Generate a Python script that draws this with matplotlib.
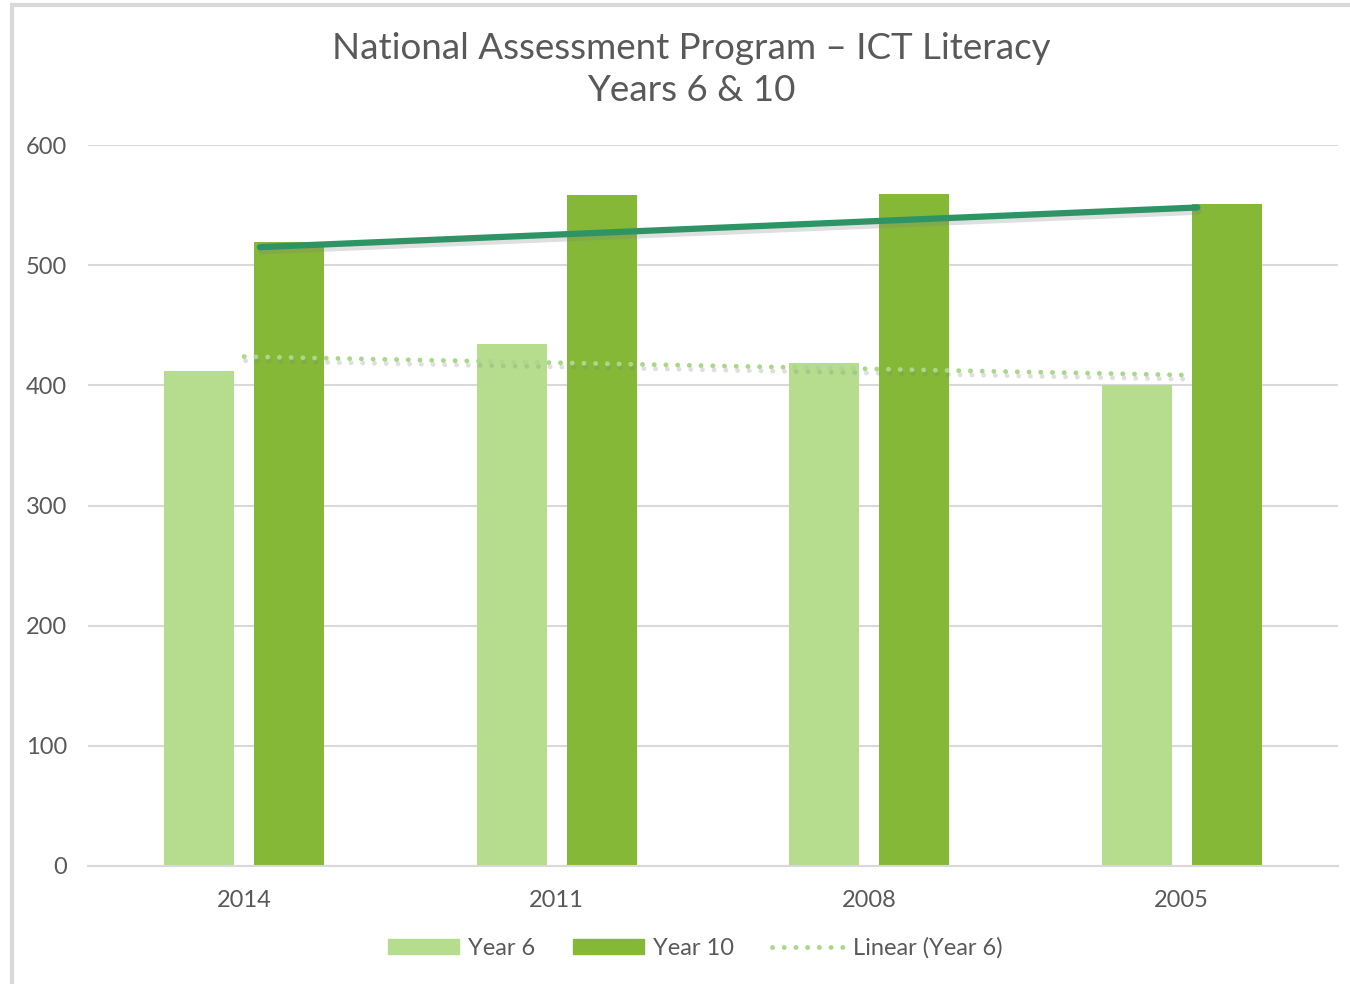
import numpy as np
import matplotlib
matplotlib.use('Agg')
import matplotlib.pyplot as plt
import matplotlib.patheffects as pe
from matplotlib.patches import Rectangle, Patch
from matplotlib.lines import Line2D

# 数据
years = ['2014', '2011', '2008', '2005']
year6 = [412, 434, 419, 400]
year10 = [519, 558, 559, 551]
# Year 10 的趋势线是手画的，记录两端读数
year10_line_x = [0.05, 3.05]
year10_line_y = [515, 548]
yticks = [0, 100, 200, 300, 400, 500, 600]

plt.rcParams['font.family'] = ['Lato', 'DejaVu Sans']
txt = '#595959'
grid_c = '#D9D9D9'
c6 = '#B6DD8E'
c10 = '#85B837'
c_dot = '#A8D888'

fig = plt.figure(figsize=(13.5, 9.84), dpi=100)
ax = fig.add_axes([88/1350, 1-866/984, 1250/1350, 721/984])

x = np.arange(len(years))
w = 0.224
off = 0.144
ax.bar(x - off, year6, w, color=c6, zorder=2)
ax.bar(x + off, year10, w, color=c10, zorder=2)

# Year 6 的线性趋势
k, b = np.polyfit(x, year6, 1)
shadow = [pe.SimpleLineShadow(offset=(1, -3), shadow_color='gray', alpha=0.25), pe.Normal()]
dot_style = (0, (0.01, 2.4))
ax.plot([x[0], x[-1]], [b, k*x[-1] + b], color=c_dot, lw=3.5, ls=dot_style,
        dash_capstyle='round', zorder=3, path_effects=shadow)
ax.plot(year10_line_x, year10_line_y, color='#2E9466', lw=4.5, solid_capstyle='round',
        zorder=3, path_effects=shadow)

ax.set_xlim(-0.5, 3.5)
ax.set_ylim(0, 600)
ax.set_yticks(yticks)
ax.set_xticks(x)
ax.set_xticklabels(years)
ax.grid(axis='y', color=grid_c, lw=1.5, zorder=0)
for s in ['top', 'right', 'left']:
    ax.spines[s].set_visible(False)
ax.spines['bottom'].set_color(grid_c)
ax.spines['bottom'].set_linewidth(1.5)
ax.tick_params(length=0, labelsize=17, colors=txt)
ax.tick_params(axis='y', pad=15)
ax.tick_params(axis='x', pad=17)

fig.text(0.512, 0.951, 'National Assessment Program – ICT Literacy', ha='center', va='center',
         fontsize=26.5, color=txt)
fig.text(0.512, 0.908, 'Years 6 & 10', ha='center', va='center', fontsize=26.5, color=txt)

handles = [Patch(color=c6), Patch(color=c10),
           Line2D([], [], color=c_dot, lw=3.5, ls=dot_style, dash_capstyle='round')]
ax.legend(handles, ['Year 6', 'Year 10', 'Linear (Year 6)'], loc='center',
          bbox_to_anchor=(695/1350, 1-948/984), bbox_transform=fig.transFigure,
          ncol=3, frameon=False, fontsize=17, labelcolor=txt, handlelength=3.0,
          handleheight=0.6, handletextpad=0.4, columnspacing=1.6)

# 外框
fig.patches.append(Rectangle((12/1350, -0.1), 1.2, 1.1 - 5/984, transform=fig.transFigure,
                             fill=False, ec=grid_c, lw=3, zorder=0))

fig.savefig('out.png', dpi=100)
